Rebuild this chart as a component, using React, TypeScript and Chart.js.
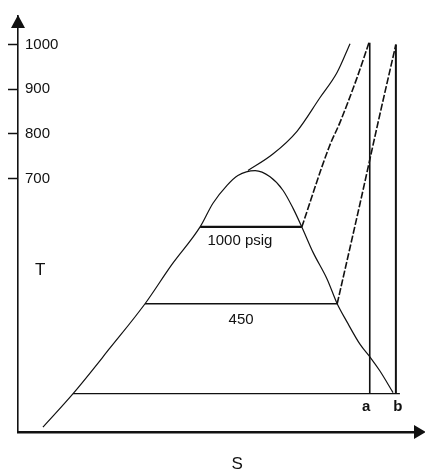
import React, { useEffect, useRef } from "react";
import { Chart, registerables } from "chart.js";

Chart.register(...registerables);

// Saturation dome (liquid line + vapour line), entropy S vs temperature T
const domeS = [0.62, 1.37, 2.29, 3.16, 3.83, 4.53, 4.85, 5.2, 5.47, 5.9, 6.27, 6.59, 6.84, 7.06, 7.34, 7.69, 7.94, 8.18, 8.51, 8.78, 9.0, 9.33];
const domeT = [144, 219, 321, 420, 508, 592, 645, 685, 707, 718, 704, 674, 634, 592, 535, 475, 420, 380, 329, 298, 270, 221];

// Critical isobar above the dome
const critS = [5.72, 6.34, 6.94, 7.51, 7.94, 8.26];
const critT = [718, 755, 806, 881, 938, 1002];

// 1000 psig superheat line
const sh1000S = [7.06, 7.74, 8.01, 8.43, 8.73];
const sh1000T = [592, 771, 826, 925, 1004];

// 450 psig superheat line
const sh450S = [7.94, 8.51, 9.0, 9.4];
const sh450T = [420, 645, 843, 1000];

// Expansion lines a and b
const lineAS = [8.75, 8.75];
const lineAT = [1004, 219];
const lineBS = [9.4, 9.4];
const lineBT = [1000, 219];

// Horizontal (boiling / condensing) lines
const condS = [1.37, 9.5];
const condT = [219, 219];
const p450S = [3.16, 7.94];
const p450T = [420, 420];
const p1000S = [4.53, 7.06];
const p1000T = [592, 592];

const yTicks = [700, 800, 900, 1000];

const labelTexts = ["1000 psig", "450", "a", "b", "T", "S"];
const labelS = [5.52, 5.55, 8.66, 9.45, 0.55, 5.45];
const labelT = [561, 385, 190, 190, 495, 60];

const pts = (xs: number[], ys: number[]) => xs.map((x, i) => ({ x, y: ys[i] }));

export default function App() {
  const ref = useRef<HTMLCanvasElement | null>(null);

  useEffect(() => {
    if (!ref.current) return;
    const black = "#111111";
    const mk = (data: any[], width: number, dash: number[] = [], curved = true) => ({
      data,
      borderColor: black,
      borderWidth: width,
      borderDash: dash,
      pointRadius: 0,
      cubicInterpolationMode: curved ? "monotone" : "default",
      tension: 0,
      fill: false,
    });

    const overlay = {
      id: "overlay",
      afterDraw(chart: any) {
        const { ctx, chartArea, scales } = chart;
        const xs = scales.x;
        const ys = scales.y;
        ctx.save();
        ctx.fillStyle = black;
        // y arrow
        const ax = chartArea.left;
        ctx.beginPath();
        ctx.moveTo(ax, chartArea.top - 1);
        ctx.lineTo(ax - 7, chartArea.top + 12);
        ctx.lineTo(ax + 7, chartArea.top + 12);
        ctx.closePath();
        ctx.fill();
        // x arrow
        const ay = chartArea.bottom;
        ctx.beginPath();
        ctx.moveTo(chartArea.right + 6, ay);
        ctx.lineTo(chartArea.right - 6, ay - 7);
        ctx.lineTo(chartArea.right - 6, ay + 7);
        ctx.closePath();
        ctx.fill();
        // labels
        ctx.textAlign = "center";
        ctx.textBaseline = "middle";
        labelTexts.forEach((t, i) => {
          const bold = t === "a" || t === "b";
          ctx.font = (bold ? "bold 15px" : "15px") + ' "Liberation Sans", Arial, sans-serif';
          if (t === "T" || t === "S") ctx.font = '17px "Liberation Sans", Arial, sans-serif';
          ctx.fillText(t, xs.getPixelForValue(labelS[i]), ys.getPixelForValue(labelT[i]));
        });
        ctx.restore();
      },
    };

    const chart = new Chart(ref.current, {
      type: "line",
      data: {
        datasets: [
          mk(pts(domeS, domeT), 1.2),
          mk(pts(critS, critT), 1.2),
          mk(pts(sh1000S, sh1000T), 1.6, [7, 2]),
          mk(pts(sh450S, sh450T), 1.6, [7, 2]),
          mk(pts(lineAS, lineAT), 1.6, [], false),
          mk(pts(lineBS, lineBT), 2, [], false),
          mk(pts(condS, condT), 1.3, [], false),
          mk(pts(p450S, p450T), 1.3, [], false),
          mk(pts(p1000S, p1000T), 2.2, [], false),
        ] as any,
      },
      options: {
        animation: false,
        responsive: false,
        devicePixelRatio: 1,
        layout: { padding: { left: 8, right: 5, top: 10, bottom: 41 } },
        plugins: { legend: { display: false }, tooltip: { enabled: false } },
        scales: {
          x: {
            type: "linear",
            min: 0,
            max: 10,
            display: true,
            border: { display: true, color: black, width: 2.5 },
            grid: { display: false, drawTicks: false },
            ticks: { display: false },
          },
          y: {
            type: "linear",
            min: 133,
            max: 1064,
            position: "left",
            afterBuildTicks: (axis: any) => {
              axis.ticks = yTicks.map((v) => ({ value: v }));
            },
            afterFit: (axis: any) => {
              axis.width = 10;
            },
            border: { display: true, color: black, width: 1.6 },
            grid: { drawOnChartArea: false, drawTicks: true, tickLength: 10, tickWidth: 1.5, color: black },
            ticks: {
              mirror: true,
              padding: 7,
              color: black,
              font: { family: '"Liberation Sans", Arial, sans-serif', size: 15 },
              callback: (v: any) => String(v),
            },
          },
        },
      },
      plugins: [overlay],
    });
    return () => chart.destroy();
  }, []);

  return (
    <div style={{ position: "fixed", left: 0, top: 0, width: 425, height: 473, background: "#fff" }}>
      <canvas ref={ref} width={425} height={473} style={{ width: 425, height: 473 }} />
    </div>
  );
}
